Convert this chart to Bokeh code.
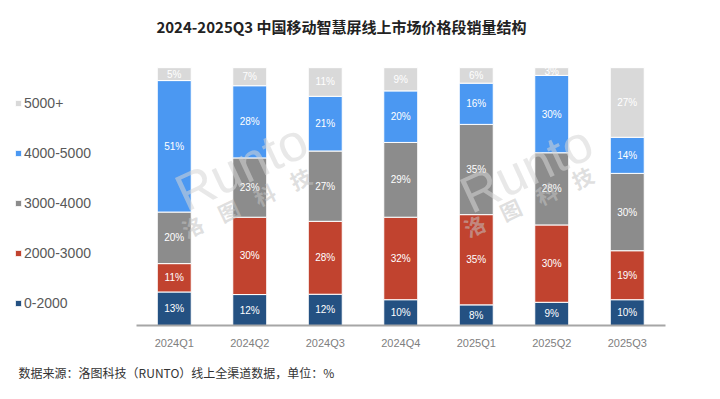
from bokeh.plotting import figure
from bokeh.models import (ColumnDataSource, Label, Legend, LegendItem, Range1d,
                          FixedTicker, LinearAxis)
from bokeh.embed import file_html
from bokeh.resources import INLINE
from bokeh.core.properties import value

quarters = ["2024Q1", "2024Q2", "2024Q3", "2024Q4", "2025Q1", "2025Q2", "2025Q3"]
segments = ["0-2000", "2000-3000", "3000-4000", "4000-5000", "5000+"]
s_0_2000 = [13, 12, 12, 10, 8, 9, 10]
s_2000_3000 = [11, 30, 28, 32, 35, 30, 19]
s_3000_4000 = [20, 23, 27, 29, 35, 28, 30]
s_4000_5000 = [51, 28, 21, 20, 16, 30, 14]
s_5000_plus = [5, 7, 11, 9, 6, 3, 27]
colors = ["#245182", "#c1432f", "#8c8c8c", "#4b98f2", "#d9d9d9"]

title_text = "2024-2025Q3 中国移动智慧屏线上市场价格段销量结构"
source_text = "数据来源：洛图科技（RUNTO）线上全渠道数据，单位：%"
watermark_latin = "Runto"
watermark_cjk = ["洛", "图", "科", "技"]

series = [s_0_2000, s_2000_3000, s_3000_4000, s_4000_5000, s_5000_plus]
totals = [sum(col) for col in zip(*series)]
xpos = list(range(len(quarters)))

W, H = 704, 383
band = 75.5          # pixels per category
first_center = 173.75
x_start = -first_center / band
x_end = x_start + W / band
axis_y = 329         # pixel row of the baseline
bar_top = 68
y_end = 100 * axis_y / (axis_y - bar_top)

p = figure(x_range=Range1d(x_start, x_end), y_range=Range1d(0, y_end),
           width=W, height=H, output_backend="svg", toolbar_location=None,
           y_axis_location=None, min_border_left=0, min_border_right=0,
           min_border_top=0, min_border_bottom=H - axis_y)
p.outline_line_color = None
p.xgrid.grid_line_color = None
p.ygrid.grid_line_color = None
p.background_fill_color = "white"
p.border_fill_color = "white"

# watermarks (drawn first, under the bars' labels)
for wx, wy, cx, cy in ((241, 159, 192, 99), (526, 157, 474, 100)):
    p.add_layout(Label(x=wx, y=wy, x_units="screen", y_units="screen", text=watermark_latin,
                       text_align="center", text_baseline="middle", text_font_size="52px",
                       angle=25, angle_units="deg", text_color="#d6d6d6", text_alpha=0.55,
                       text_font="Liberation Sans"))
    for k, ch in enumerate(watermark_cjk):
        p.add_layout(Label(x=cx + 36 * k, y=cy + 16 * k, x_units="screen", y_units="screen",
                           text=ch, text_align="center", text_baseline="middle",
                           text_font_size="21px", angle=25, angle_units="deg",
                           text_color="#c4c4c4", text_alpha=0.55, text_font_style="bold",
                           text_font="Noto Sans CJK SC"))

renderers = []
bottoms = [0.0] * len(quarters)
for name, vals, col in zip(segments, series, colors):
    shares = [v / t * 100 for v, t in zip(vals, totals)]
    tops = [b + s for b, s in zip(bottoms, shares)]
    mids = [(b + t) / 2 for b, t in zip(bottoms, tops)]
    src = ColumnDataSource(dict(x=xpos, bottom=bottoms, top=tops, mid=mids,
                                lab=[f"{v}%" for v in vals]))
    r = p.vbar(x="x", bottom="bottom", top="top", width=0.45, source=src,
               fill_color=col, line_color="white", line_width=1)
    p.text(x="x", y="mid", text="lab", source=src, text_align="center",
           text_baseline="middle", text_color="white", text_font_size="10px",
           text_font=value("Liberation Sans"))
    renderers.append((name, r))
    bottoms = tops

ax = p.xaxis[0]
ax.ticker = FixedTicker(ticks=xpos)
ax.major_label_overrides = {i: q for i, q in zip(xpos, quarters)}
ax.bounds = (xpos[0] - 0.5, xpos[-1] + 0.5)
ax.axis_line_color = "#a6a6a6"
ax.axis_line_width = 2
ax.major_tick_line_color = None
ax.minor_tick_line_color = None
ax.major_tick_out = 0
ax.major_tick_in = 0
ax.minor_tick_out = 0
ax.major_label_text_font_size = "11px"
ax.major_label_text_color = "#808080"
ax.major_label_text_font = "Liberation Sans"
ax.major_label_standoff = 11

# source note as a second (line-less) axis below, in pixel units
p.extra_x_ranges = {"px": Range1d(0, W)}
src_center = 176
src_axis = LinearAxis(x_range_name="px", ticker=FixedTicker(ticks=[src_center]),
                      major_label_overrides={src_center: source_text})
src_axis.axis_line_color = None
src_axis.major_tick_line_color = None
src_axis.minor_tick_line_color = None
src_axis.major_tick_out = 0
src_axis.major_tick_in = 0
src_axis.minor_tick_out = 0
src_axis.major_label_text_font_size = "12px"
src_axis.major_label_text_color = "#333333"
src_axis.major_label_text_font = "Noto Sans CJK SC"
src_axis.major_label_standoff = 12
p.add_layout(src_axis, "below")

# title
p.add_layout(Label(x=341, y=axis_y - 30, x_units="screen", y_units="screen",
                   text=title_text, text_align="center", text_baseline="middle",
                   text_font_size="15px", text_font_style="bold", text_color="#222222",
                   text_font="Noto Sans CJK SC"))

items = [LegendItem(label=n, renderers=[r]) for n, r in reversed(renderers)]
legend = Legend(items=items, location=(14, 12), orientation="vertical",
                glyph_width=8, glyph_height=8, label_height=20, spacing=30,
                label_standoff=2, padding=5, margin=0,
                label_text_font_size="14px", label_text_color="#595959",
                label_text_font="Liberation Sans", border_line_color=None,
                background_fill_alpha=0)
p.add_layout(legend, "center")

open("out.html", "w").write(file_html(p, INLINE))
